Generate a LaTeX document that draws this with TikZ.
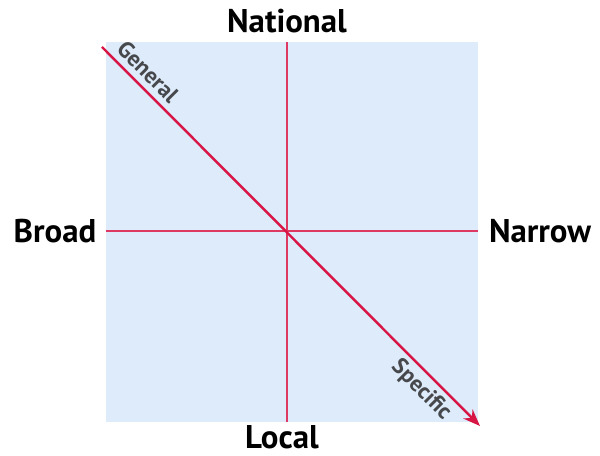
\documentclass[tikz,border=0pt]{standalone}
\usepackage{fontspec}
\setmainfont{PT Sans}
\usepackage{xcolor}
\usetikzlibrary{arrows.meta}

\definecolor{axisred}{RGB}{216,22,70}
\definecolor{paneblue}{RGB}{221,235,250}
\definecolor{tagtext}{RGB}{70,72,76}

\begin{document}
\begin{tikzpicture}[x=0.02cm, y=-0.02cm,
  every node/.style={font=\bfseries\fontsize{18.7}{21}\selectfont},
  tag/.style={font=\bfseries\fontsize{13}{15}\selectfont, text=tagtext, rotate=-45},
  >={Stealth[length=3.4mm, width=2.6mm]}]
\useasboundingbox (0,0) rectangle (600,456);
\fill[paneblue] (106,42) rectangle (478,422);
\coordinate (top) at (287,42);
\coordinate (bottom) at (287,422);
\coordinate (left) at (106,231);
\coordinate (right) at (478,231);
\coordinate (start) at (102,47);
\coordinate (end) at (480,426);
\node (national) at (287,21) {National};
\node (local) at (282,437) {Local};
\node (broad) at (55,231) {Broad};
\node (narrow) at (540,231) {Narrow};
\node[tag] (general) at (148,72) {General};
\node[tag] (specific) at (421,390) {Specific};
\draw[axisred!85, line width=0.6pt] (top) -- (bottom);
\draw[axisred!85, line width=0.6pt] (left) -- (right);
\draw[->, axisred, line width=1.4pt] (start) -- (end);
\end{tikzpicture}
\end{document}
